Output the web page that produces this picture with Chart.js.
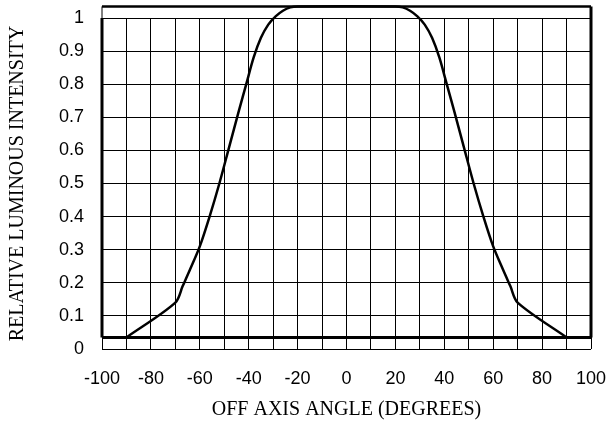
<!DOCTYPE html>
<html>
<head>
<meta charset="utf-8">
<script src="https://cdn.jsdelivr.net/npm/chart.js@4"></script>
<style>
  html, body { margin: 0; padding: 0; background: #fff; }
  #wrap { width: 609px; height: 425px; }
</style>
</head>
<body>
<div id="wrap"><canvas id="chartIntensity" width="609" height="425"></canvas></div>
<script>
// off-axis angle (degrees) vs relative luminous intensity
const angles = [-90, -70, -67, -64, -60, -56, -52, -48, -44, -41, -38, -35, -32, -29, -26, -23, -20,
                20, 23, 26, 29, 32, 35, 38, 41, 44, 48, 52, 56, 60, 64, 67, 70, 90];
const intensity = [0.035, 0.14, 0.19, 0.24, 0.31, 0.4, 0.5, 0.61, 0.72, 0.8, 0.88, 0.94, 0.98, 1.005, 1.022, 1.032, 1.035,
                   1.035, 1.032, 1.022, 1.005, 0.98, 0.94, 0.88, 0.8, 0.72, 0.61, 0.5, 0.4, 0.31, 0.24, 0.19, 0.14, 0.035];
const frameTop = 1.035;
const axisCross = 0.035;
const xRange = [-100, 100];
const yTicks = [0, 0.1, 0.2, 0.3, 0.4, 0.5, 0.6, 0.7, 0.8, 0.9, 1];

const curve = angles.map((a, i) => ({ x: a, y: intensity[i] }));

const frameSides = {
    id: 'frameSides',
    afterDatasetsDraw(chart) {
        const { ctx, scales: { x, y } } = chart;
        const l = x.getPixelForValue(xRange[0]), r = x.getPixelForValue(xRange[1]);
        ctx.save();
        ctx.strokeStyle = '#000';
        ctx.lineWidth = 1;
        ctx.beginPath();
        ctx.moveTo(l, y.getPixelForValue(frameTop));
        ctx.lineTo(l, y.getPixelForValue(1));
        ctx.stroke();
        ctx.lineWidth = 3;
        ctx.beginPath();
        ctx.moveTo(l, y.getPixelForValue(1));
        ctx.lineTo(l, y.getPixelForValue(axisCross));
        ctx.moveTo(r, y.getPixelForValue(frameTop));
        ctx.lineTo(r, y.getPixelForValue(axisCross));
        ctx.stroke();
        ctx.restore();
    }
};

const ctx = document.getElementById("chartIntensity").getContext('2d');
new Chart(ctx, {
    type: "scatter",
    data: {
        datasets: [{
            label: "Intensity",
            data: curve,
            showLine: true,
            borderColor: '#000',
            borderWidth: 2.5,
            pointRadius: 0,
            tension: 0.3,
            clip: false
        }, {
            label: "top",
            data: [{ x: xRange[0], y: frameTop }, { x: xRange[1], y: frameTop }],
            showLine: true,
            borderColor: '#000',
            borderWidth: 2.5,
            pointRadius: 0,
            clip: false
        }, {
            label: "axis",
            data: [{ x: xRange[0], y: axisCross }, { x: xRange[1], y: axisCross }],
            showLine: true,
            borderColor: '#000',
            borderWidth: 3,
            pointRadius: 0,
            clip: false
        }]
    },
    options: {
        responsive: false,
        animation: false,
        layout: { padding: { top: 18, right: 18, left: 0, bottom: 0 } },
        plugins: {
            legend: { display: false },
            tooltip: { enabled: false }
        },
        scales: {
            x: {
                type: 'linear',
                min: xRange[0],
                max: xRange[1],
                afterFit: (s) => { s.height = 76; s.paddingLeft = 0; s.paddingRight = 0; },
                ticks: {
                    stepSize: 10,
                    padding: 19,
                    autoSkip: false,
                    maxRotation: 0,
                    minRotation: 0,
                    color: '#000',
                    font: { family: 'Liberation Sans, Arial', size: 18 },
                    callback: (v) => (v % 20 === 0 ? v : '')
                },
                grid: { color: '#000', lineWidth: 1, drawTicks: false },
                border: { display: false },
                title: {
                    display: true,
                    text: 'OFF AXIS ANGLE (DEGREES)',
                    color: '#000',
                    font: { family: 'Liberation Serif, Times New Roman', size: 20 },
                    padding: { top: 0, bottom: 3 }
                }
            },
            y: {
                min: 0,
                max: 1,
                afterFit: (s) => { s.width = 102; s.paddingTop = 0; s.paddingBottom = 0; },
                afterBuildTicks: (s) => { s.ticks = yTicks.map(v => ({ value: v })); },
                ticks: {
                    padding: 18,
                    color: '#000',
                    font: { family: 'Liberation Sans, Arial', size: 18 },
                    callback: (v) => String(Math.round(v * 10) / 10)
                },
                grid: { color: '#000', lineWidth: 1, drawTicks: false },
                border: { display: false },
                title: {
                    display: true,
                    text: 'RELATIVE LUMINOUS INTENSITY',
                    color: '#000',
                    font: { family: 'Liberation Serif, Times New Roman', size: 20 },
                    padding: { top: 6, bottom: 0 }
                }
            }
        }
    },
    plugins: [frameSides]
});
</script>
</body>
</html>
